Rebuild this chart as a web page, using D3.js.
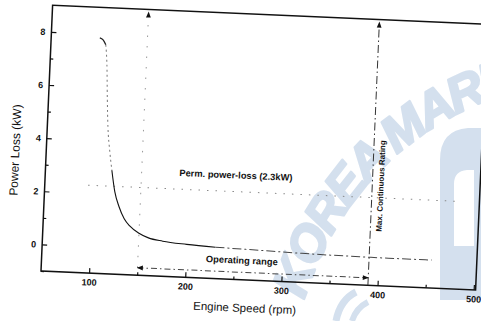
<!DOCTYPE html>
<html>
<head>
<meta charset="utf-8">
<script src="https://cdn.jsdelivr.net/npm/d3@7"></script>
<style>
  html, body { margin: 0; padding: 0; background: #fff; }
  svg { display: block; font-family: "Liberation Sans", Arial, sans-serif; }
</style>
</head>
<body>
<svg id="chart" width="481" height="321"></svg>
<script>
// Engine power loss against engine speed
const speedTicks = [100, 200, 300, 400, 500];
const speedMinorTicks = [150, 250, 350, 450];
const lossTicks = [0, 2, 4, 6, 8];
const lossMinorTicks = [-1, 1, 3, 5, 7];

const curveSpeed = [100.5, 104, 107, 109, 111, 113, 116, 119, 123, 128, 134, 140, 150, 160, 175, 200, 230, 260, 290, 320, 350, 380, 410, 440, 455];
const curveLoss  = [7.85, 7.78, 7.6, 6.9, 5.6, 4.5, 3.6, 2.9, 2.1, 1.55, 1.1, 0.84, 0.58, 0.42, 0.32, 0.24, 0.18, 0.15, 0.12, 0.09, 0.07, 0.06, 0.05, 0.05, 0.05];

const permLoss = 2.3;                 // kW
const permLineSpeed = [95, 480];
const operatingRange = [150, 390];    // rpm
const operatingLevel = -0.72;         // kW, height of the range arrow
const mcrSpeed = 390;                 // rpm
const markerTop = 8.9;                // kW, arrow tips at the top

const W = 435, H = 266, tilt = 2.5;
const narrow = "'Liberation Sans Narrow', 'Liberation Sans', Arial, sans-serif";

const svg = d3.select("#chart");
const defs = svg.append("defs");

// faint watermark behind the plot
const wmColor = "#d4e0ee";
defs.append("path").attr("id", "wmArc").attr("d", "M304,300 Q352,150 500,95");
const wm = svg.append("g").attr("fill", wmColor);
wm.append("text")
  .attr("font-size", 50).attr("font-weight", "bold").attr("font-style", "italic")
  .attr("font-family", narrow).attr("letter-spacing", -3)
  .attr("stroke", wmColor).attr("stroke-width", 2.5).attr("stroke-linejoin", "round")
  .append("textPath").attr("href", "#wmArc").text("KOREA MARITIME");
wm.append("path")
  .attr("fill-rule", "evenodd")
  .attr("d", "M440,300 L440,160 Q440,130 468,128 L490,128 L490,300 Z M454,246 L454,184 Q454,171 467,170 L474,170 L474,246 Z");
wm.append("path").attr("fill", "none").attr("stroke", wmColor).attr("stroke-width", 7)
  .attr("d", "M336,321 Q340,300 356,292");
wm.append("path").attr("fill", "none").attr("stroke", wmColor).attr("stroke-width", 6)
  .attr("d", "M352,321 Q356,308 368,302");

defs.append("marker").attr("id", "arrow")
  .attr("viewBox", "0 0 10 10").attr("refX", 9).attr("refY", 5)
  .attr("markerWidth", 8).attr("markerHeight", 6).attr("markerUnits", "userSpaceOnUse")
  .attr("orient", "auto-start-reverse")
  .append("path").attr("d", "M0,1 L10,5 L0,9 Z").attr("fill", "#111");

const g = svg.append("g").attr("transform", `translate(41,271) rotate(${tilt})`);

const x = d3.scaleLinear().domain([50, 502]).range([0, W]);
const y = d3.scaleLinear().domain([-1, 9]).range([0, -H]);

// frame
g.append("rect").attr("x", 0).attr("y", -H).attr("width", W).attr("height", H)
  .attr("fill", "none").attr("stroke", "#111").attr("stroke-width", 1.5);

// axes with inward ticks
g.append("g")
  .call(d3.axisBottom(x).tickValues(speedTicks).tickSizeInner(-5).tickSizeOuter(0).tickPadding(6));
g.append("g")
  .call(d3.axisBottom(x).tickValues(speedMinorTicks).tickSizeInner(-3).tickSizeOuter(0).tickFormat(""));
g.append("g")
  .call(d3.axisLeft(y).tickValues(lossTicks).tickSizeInner(-5).tickSizeOuter(0).tickPadding(6));
g.append("g")
  .call(d3.axisLeft(y).tickValues(lossMinorTicks).tickSizeInner(-3).tickSizeOuter(0).tickFormat(""));
g.selectAll(".domain").remove();
g.selectAll(".tick line").attr("stroke", "#111").attr("stroke-width", 1.2);
g.selectAll(".tick text").attr("font-size", 9).attr("font-weight", "bold").attr("fill", "#111")
  .attr("font-family", narrow);

// axis titles
g.append("text").attr("x", x(263)).attr("y", 28).attr("dy", "0.35em")
  .attr("text-anchor", "middle").attr("font-size", 11.5).attr("fill", "#111")
  .text("Engine Speed (rpm)");
g.append("text").attr("transform", `translate(-31,${y(3.5)}) rotate(-90)`).attr("dy", "0.35em")
  .attr("text-anchor", "middle").attr("font-size", 12).attr("fill", "#111")
  .text("Power Loss (kW)");

// permissible power-loss level
g.append("line")
  .attr("x1", x(permLineSpeed[0])).attr("x2", x(permLineSpeed[1]))
  .attr("y1", y(permLoss)).attr("y2", y(permLoss))
  .attr("stroke", "#888").attr("stroke-width", 1).attr("stroke-dasharray", "1.5,7");

// start of operating range, vertical marker
g.append("line")
  .attr("x1", x(operatingRange[0])).attr("x2", x(operatingRange[0]))
  .attr("y1", y(operatingLevel)).attr("y2", y(markerTop))
  .attr("stroke", "#999").attr("stroke-width", 1).attr("stroke-dasharray", "1.5,9")
  .attr("marker-end", "url(#arrow)");

// maximum continuous rating
g.append("line")
  .attr("x1", x(mcrSpeed)).attr("x2", x(mcrSpeed))
  .attr("y1", y(-1)).attr("y2", y(markerTop))
  .attr("stroke", "#333").attr("stroke-width", 1).attr("stroke-dasharray", "8,3,1.5,3")
  .attr("marker-end", "url(#arrow)");

// operating range arrow
g.append("line")
  .attr("x1", x(operatingRange[0])).attr("x2", x(operatingRange[1]))
  .attr("y1", y(operatingLevel)).attr("y2", y(operatingLevel))
  .attr("stroke", "#444").attr("stroke-width", 1).attr("stroke-dasharray", "6,3,1.5,3")
  .attr("marker-start", "url(#arrow)").attr("marker-end", "url(#arrow)");

// power-loss curve, drawn in pieces with the line styles of the print
const pts = curveSpeed.map((s, i) => [s, curveLoss[i]]);
const line = d3.line().x(d => x(d[0])).y(d => y(d[1])).curve(d3.curveMonotoneX);
const pieces = [
  { from: 0, to: 2,  stroke: "#222", width: 1.3, dash: null },
  { from: 2, to: 7,  stroke: "#777", width: 1,   dash: "2,3" },
  { from: 7, to: 16, stroke: "#111", width: 1.1, dash: null },
  { from: 16, to: pts.length - 1, stroke: "#444", width: 1, dash: "9,3,2,3" }
];
pieces.forEach(p => {
  g.append("path").datum(pts.slice(p.from, p.to + 1))
    .attr("d", line).attr("fill", "none")
    .attr("stroke", p.stroke).attr("stroke-width", p.width)
    .attr("stroke-dasharray", p.dash);
});

// annotations
g.append("text").attr("x", x(248)).attr("y", y(2.92)).attr("dy", "0.35em")
  .attr("text-anchor", "middle").attr("font-size", 9.3).attr("font-weight", "bold").attr("fill", "#111")
  .attr("font-family", narrow)
  .text("Perm. power-loss (2.3kW)");
g.append("text").attr("x", x(258)).attr("y", y(-0.27)).attr("dy", "0.35em")
  .attr("text-anchor", "middle").attr("font-size", 9.3).attr("font-weight", "bold").attr("fill", "#111")
  .attr("font-family", narrow)
  .text("Operating range");
g.append("text").attr("transform", `translate(${x(mcrSpeed) + 8.5},${y(2.75)}) rotate(-90)`).attr("dy", "0.35em")
  .attr("text-anchor", "middle").attr("font-size", 8).attr("font-weight", "bold").attr("fill", "#111")
  .attr("font-family", narrow)
  .text("Max. Continuous Rating");
</script>
</body>
</html>
